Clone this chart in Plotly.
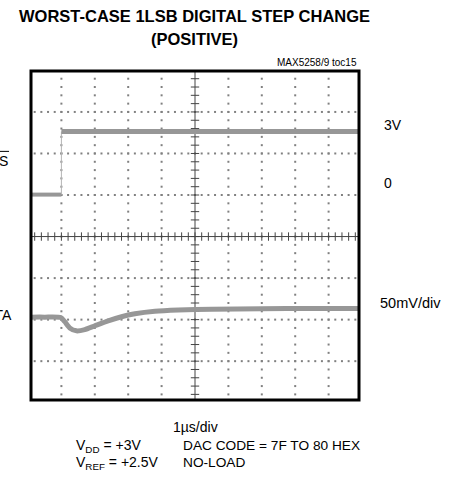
import plotly.graph_objects as go

# ---- data (in scope divisions) ----
cs_time = [0.09, 1.0, 1.0, 9.91]
cs_level = [1.01, 1.01, 2.53, 2.53]

data_time = [0.09, 0.5, 0.98, 1.1, 1.25, 1.45, 1.7, 2.0, 2.4, 2.8, 3.2, 3.8, 4.5, 5.5, 7.0, 8.5, 9.91]
data_level = [-1.94, -1.94, -1.95, -2.05, -2.2, -2.27, -2.24, -2.15, -2.03, -1.93, -1.86, -1.80, -1.77, -1.75, -1.74, -1.73, -1.73]

x_divs = list(range(0, 11))
y_divs = list(range(-4, 5))

FONT = "Liberation Sans, Arial, Helvetica, sans-serif"
TRACE = "#979797"

fig = go.Figure()

# dotted graticule
gx, gy = [], []
for yv in y_divs:
    if yv in (0, -4, 4):
        continue
    for i in range(0, 51):
        gx.append(i * 0.2)
        gy.append(yv)
for xv in x_divs:
    if xv in (0, 5, 10):
        continue
    for j in range(-20, 21):
        gx.append(xv)
        gy.append(j * 0.2)
fig.add_trace(go.Scatter(x=gx, y=gy, mode="markers",
                         marker=dict(symbol="square", size=2, color="#808080", line=dict(width=0)),
                         hoverinfo="skip", showlegend=False))

# center axes with minor ticks
fig.add_trace(go.Scatter(x=[0, 10], y=[0, 0], mode="lines", line=dict(color="#444", width=1),
                         hoverinfo="skip", showlegend=False))
fig.add_trace(go.Scatter(x=[5, 5], y=[-4, 4], mode="lines", line=dict(color="#444", width=1),
                         hoverinfo="skip", showlegend=False))
fig.add_trace(go.Scatter(x=[i * 0.2 for i in range(51)], y=[0] * 51, mode="markers",
                         marker=dict(symbol="line-ns", size=6, line=dict(color="#444", width=1)),
                         hoverinfo="skip", showlegend=False))
fig.add_trace(go.Scatter(x=[5] * 41, y=[j * 0.2 for j in range(-20, 21)], mode="markers",
                         marker=dict(symbol="line-ew", size=6, line=dict(color="#444", width=1)),
                         hoverinfo="skip", showlegend=False))

# CS trace
fig.add_trace(go.Scatter(x=cs_time[0:2], y=cs_level[0:2], mode="lines",
                         line=dict(color=TRACE, width=4), hoverinfo="skip", showlegend=False))
fig.add_trace(go.Scatter(x=cs_time[1:3], y=cs_level[1:3], mode="lines",
                         line=dict(color="#b5b5b5", width=1), hoverinfo="skip", showlegend=False))
fig.add_trace(go.Scatter(x=cs_time[2:4], y=cs_level[2:4], mode="lines",
                         line=dict(color=TRACE, width=5), hoverinfo="skip", showlegend=False))

# DATA trace
fig.add_trace(go.Scatter(x=data_time, y=data_level, mode="lines",
                         line=dict(color=TRACE, width=5, shape="spline", smoothing=0.6),
                         hoverinfo="skip", showlegend=False))

# frame
fig.add_shape(type="rect", xref="paper", yref="paper", x0=0, x1=1, y0=0, y1=1,
              line=dict(color="black", width=3))

W, H = 455, 482
L, R, T, B = 31, 359.5, 70.5, 400

def px(x):
    return (x - L) / (R - L)

def py(y):
    return (B - y) / (B - T)

ann = []
def text(s, x, y, size=14, xanchor="left"):
    ann.append(dict(text=s, x=px(x), y=py(y), xref="paper", yref="paper",
                    xanchor=xanchor, yanchor="middle", showarrow=False,
                    font=dict(family=FONT, size=size, color="black")))

text("<b>WORST-CASE 1LSB DIGITAL STEP CHANGE</b>", 195, 15, size=16.5, xanchor="center")
text("<b>(POSITIVE)</b>", 195, 38, size=16.5, xanchor="center")
text("MAX5258/9 toc15", 359, 62, size=10, xanchor="right")
text("3V", 383, 125, size=14)
text("0", 383, 183, size=14)
text("50mV/div", 379, 303, size=14.5)
text("CS", 9.5, 161, size=14, xanchor="right")
text("DATA", 13.5, 315, size=14, xanchor="right")
text("1\u00b5s/div", 196, 427, size=14, xanchor="center")
text("V<sub>DD</sub> = +3V", 74, 446, size=14)
text("V<sub>REF</sub> = +2.5V", 74, 463, size=14)
text("DAC CODE = 7F TO 80 HEX", 181, 446, size=13.7)
text("NO-LOAD", 181, 463, size=13.7)

# overline on CS label
fig.add_shape(type="line", xref="paper", yref="paper",
              x0=px(-12), x1=px(9), y0=py(151), y1=py(151),
              line=dict(color="black", width=1))

fig.update_layout(
    width=W, height=H,
    margin=dict(l=L, r=W - R, t=T, b=H - B, pad=0),
    paper_bgcolor="white", plot_bgcolor="white",
    hovermode=False,
    xaxis=dict(range=[(L - 28) / 33.45, (R - 28) / 33.45], showgrid=False, zeroline=False,
               showticklabels=False, showline=False, ticks="", fixedrange=True),
    yaxis=dict(range=[(236.3 - B) / 41.6, (236.3 - T) / 41.6], showgrid=False, zeroline=False,
               showticklabels=False, showline=False, ticks="", fixedrange=True),
    annotations=ann,
)

fig.write_html("out.html",
               config={"displayModeBar": False, "staticPlot": True},
               post_script="document.body.style.margin='0';document.body.style.overflow='hidden';")
